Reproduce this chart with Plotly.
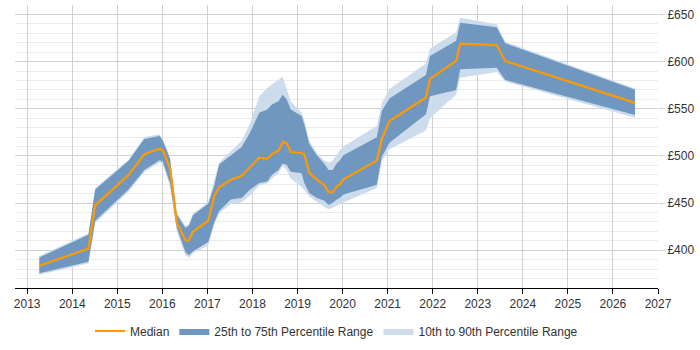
import plotly.graph_objects as go

dates = [2013.27, 2014.36, 2014.51, 2015.25, 2015.60, 2015.94, 2016.01, 2016.17, 2016.32, 2016.51,
         2016.59, 2016.68, 2017.02, 2017.15, 2017.26, 2017.52, 2017.76, 2017.95, 2018.15, 2018.33,
         2018.43, 2018.58, 2018.67, 2018.76, 2018.85, 2019.09, 2019.15, 2019.26, 2019.43, 2019.59,
         2019.69, 2019.78, 2019.87, 2019.94, 2020.02, 2020.76, 2020.87, 2021.04, 2021.85, 2021.94,
         2022.52, 2022.61, 2023.42, 2023.61, 2026.49]

median = [383.6, 401.8, 447.6, 479.9, 501.8, 507.6, 506.0, 486.8, 429.5, 410.7,
          410.4, 419.8, 431.3, 457.3, 466.7, 474.7, 478.9, 487.8, 498.2, 497.2,
          501.8, 505.9, 514.6, 513.5, 504.2, 503.1, 501.8, 482.3, 474.7, 469.5,
          461.5, 461.5, 467.7, 469.5, 475.3, 495.0, 518.0, 537.0, 562.0, 581.6,
          600.7, 619.0, 617.5, 600.7, 556.2]

p75 = [392.4, 416.4, 464.3, 494.8, 518.0, 521.0, 516.0, 497.0, 438.0, 424.0,
       426.0, 437.0, 449.5, 468.0, 491.0, 500.7, 509.4, 525.0, 545.8, 549.3,
       554.5, 558.0, 564.9, 559.7, 549.3, 542.4, 533.7, 512.8, 500.7, 492.0,
       485.1, 485.1, 492.0, 495.5, 500.7, 519.8, 547.6, 561.0, 585.8, 606.0,
       622.0, 641.3, 636.5, 619.5, 570.1]

p25 = [375.7, 387.8, 431.3, 464.3, 485.1, 495.5, 493.8, 471.0, 424.3, 398.2,
       394.8, 399.0, 408.7, 429.5, 441.7, 453.8, 455.5, 464.3, 471.2, 472.9,
       479.9, 485.1, 492.0, 490.3, 483.3, 481.6, 471.2, 460.8, 455.5, 452.8,
       448.0, 450.3, 453.8, 455.5, 459.0, 469.5, 499.0, 514.0, 544.1, 563.2,
       570.0, 592.0, 593.4, 580.6, 543.5]

p90 = [394.0, 418.0, 466.0, 496.0, 520.0, 523.0, 518.0, 499.0, 440.0, 426.0,
       428.0, 439.0, 451.0, 475.0, 493.0, 505.0, 516.0, 535.0, 563.0, 572.0,
       576.0, 581.0, 584.0, 570.0, 558.0, 546.0, 538.0, 516.0, 503.0, 495.0,
       493.0, 495.0, 502.0, 506.0, 510.0, 532.0, 556.0, 571.0, 598.0, 614.0,
       631.0, 646.5, 639.6, 621.0, 571.5]

p10 = [374.0, 386.0, 429.0, 462.0, 483.0, 493.0, 491.0, 468.0, 420.0, 395.0,
       392.0, 397.0, 405.0, 427.0, 439.0, 449.0, 451.0, 458.0, 469.0, 471.0,
       476.0, 482.0, 489.0, 485.0, 476.0, 467.0, 464.0, 457.0, 451.0, 446.0,
       443.4, 445.0, 447.0, 449.0, 451.0, 466.0, 494.0, 507.0, 527.0, 540.0,
       565.0, 583.0, 589.0, 578.9, 540.6]

y_ticks = [400, 450, 500, 550, 600, 650]
x_ticks = list(range(2013, 2028))

fig = go.Figure()

fig.add_trace(go.Scatter(
    x=dates + dates[::-1], y=p90 + p10[::-1],
    fill="toself", fillcolor="#ccdcec", mode="lines", line=dict(width=0, color="#ccdcec"),
    name="10th to 90th Percentile Range", legendrank=3, hoverinfo="skip"))

fig.add_trace(go.Scatter(
    x=dates + dates[::-1], y=p75 + p25[::-1],
    fill="toself", fillcolor="#7097bf", mode="lines", line=dict(width=0, color="#7097bf"),
    name="25th to 75th Percentile Range", legendrank=2, hoverinfo="skip"))

fig.add_trace(go.Scatter(
    x=dates, y=median, mode="lines", line=dict(color="#ff9900", width=2.2),
    name="Median", legendrank=1))

fig.update_layout(
    width=700, height=350,
    margin=dict(l=15, r=42, t=5, b=57),
    paper_bgcolor="white", plot_bgcolor="white",
    font=dict(family="Liberation Sans, Arial, sans-serif", size=12, color="#333"),
    showlegend=True,
    legend=dict(orientation="h", x=0.5, xanchor="center", y=-0.152, yanchor="middle",
                font=dict(size=12, color="#333"), traceorder="normal", itemwidth=30),
    xaxis=dict(range=[2012.73, 2027], tickvals=x_ticks, ticktext=[str(t) for t in x_ticks],
               showgrid=True, gridcolor="#d0d0d0", gridwidth=1,
               showline=True, linecolor="#000", linewidth=1,
               ticks="outside", ticklen=5, tickcolor="#000", zeroline=False),
    yaxis=dict(range=[360, 660], side="right", tickvals=y_ticks,
               ticktext=["£" + str(t) for t in y_ticks],
               showgrid=True, gridcolor="#d0d0d0", gridwidth=1,
               minor=dict(dtick=10, tick0=0, showgrid=True, gridcolor="#ebebeb", gridwidth=1),
               ticks="outside", ticklen=6, tickcolor="#d0d0d0",
               showline=False, zeroline=False),
)

fig.write_html("out.html")
